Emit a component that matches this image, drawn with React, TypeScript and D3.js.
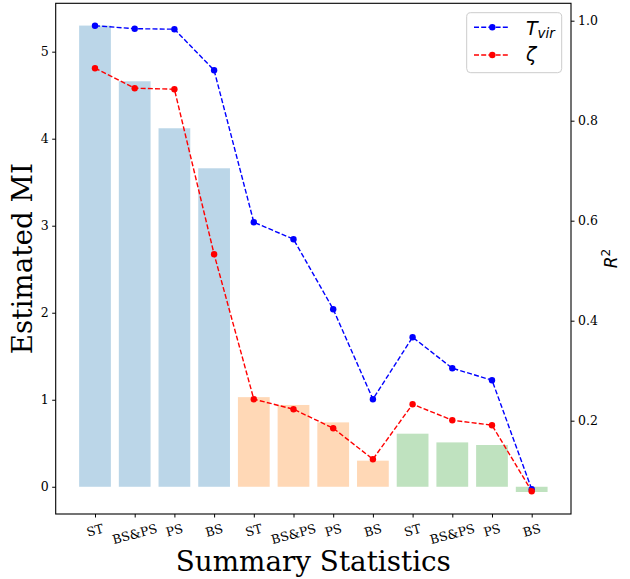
import React, { useEffect, useRef } from 'react';
import * as d3 from 'd3';

// summary statistics, three groups of four
const categories = ['ST', 'BS&PS', 'PS', 'BS', 'ST', 'BS&PS', 'PS', 'BS', 'ST', 'BS&PS', 'PS', 'BS'];
const groupOf = [0, 0, 0, 0, 1, 1, 1, 1, 2, 2, 2, 2];
const groupColors = ['#1f77b4', '#ff7f0e', '#2ca02c'];

// estimated mutual information (bars, left axis)
const miValues = [5.30, 4.66, 4.12, 3.66, 1.03, 0.94, 0.74, 0.30, 0.61, 0.51, 0.48, -0.06];

// R^2 of the two parameters (lines, right axis)
const tvirR2 = [0.990, 0.984, 0.983, 0.901, 0.597, 0.563, 0.423, 0.243, 0.367, 0.305, 0.281, 0.063];
const zetaR2 = [0.905, 0.865, 0.863, 0.533, 0.243, 0.223, 0.185, 0.123, 0.233, 0.201, 0.191, 0.059];

const miTicks = [0, 1, 2, 3, 4, 5];
const r2Ticks = [0.2, 0.4, 0.6, 0.8, 1.0];

const W = 630;
const H = 579;
const margin = { left: 55.7, right: 571, top: 3.3, bottom: 514 };
const SERIF = "'DejaVu Serif', serif";
const SANS = "'DejaVu Sans', sans-serif";

function drawChart(node: HTMLDivElement) {
  d3.select(node).selectAll('*').remove();
  const svg = d3.select(node)
    .append('svg')
    .attr('width', W)
    .attr('height', H)
    .style('display', 'block');

  svg.append('rect').attr('width', W).attr('height', H).attr('fill', '#ffffff');

  const x = d3.scaleLinear().domain([-0.99, 11.99]).range([margin.left, margin.right]);
  const yMI = d3.scaleLinear().domain([-0.313, 5.556]).range([margin.bottom, margin.top]);
  const yR2 = d3.scaleLinear().domain([0.0134, 1.0348]).range([margin.bottom, margin.top]);

  // bars
  svg.append('g')
    .selectAll('rect')
    .data(miValues)
    .join('rect')
    .attr('x', (d, i) => x(i - 0.4))
    .attr('width', x(0.4) - x(-0.4))
    .attr('y', d => yMI(Math.max(0, d)))
    .attr('height', d => Math.abs(yMI(d) - yMI(0)))
    .attr('fill', (d, i) => groupColors[groupOf[i]])
    .attr('fill-opacity', 0.3);

  // lines
  const series = [
    { values: tvirR2, color: '#0000ff' },
    { values: zetaR2, color: '#ff0000' },
  ];
  const line = d3.line<number>().x((d, i) => x(i)).y(d => yR2(d));
  series.forEach(s => {
    const g = svg.append('g');
    g.append('path')
      .attr('d', line(s.values))
      .attr('fill', 'none')
      .attr('stroke', s.color)
      .attr('stroke-width', 1.4)
      .attr('stroke-dasharray', '5,2.2');
    g.selectAll('circle')
      .data(s.values)
      .join('circle')
      .attr('cx', (d, i) => x(i))
      .attr('cy', d => yR2(d))
      .attr('r', 3.2)
      .attr('fill', s.color);
  });

  // frame
  svg.append('rect')
    .attr('x', margin.left)
    .attr('y', margin.top)
    .attr('width', margin.right - margin.left)
    .attr('height', margin.bottom - margin.top)
    .attr('fill', 'none')
    .attr('stroke', '#000')
    .attr('stroke-width', 1.1);

  const styleAxis = (g: any) => {
    g.select('.domain').remove();
    g.selectAll('line').attr('stroke', '#000').attr('stroke-width', 1);
    g.selectAll('text').attr('fill', '#000').style('font-family', SERIF).style('font-size', '12.5px');
  };

  svg.append('g')
    .attr('transform', `translate(${margin.left},0)`)
    .call(d3.axisLeft(yMI).tickValues(miTicks).tickSize(3.5).tickPadding(3.5).tickFormat(d3.format('d')))
    .call(styleAxis);

  svg.append('g')
    .attr('transform', `translate(${margin.right},0)`)
    .call(d3.axisRight(yR2).tickValues(r2Ticks).tickSize(3.5).tickPadding(3.5).tickFormat(d3.format('.1f')))
    .call(styleAxis);

  svg.append('g')
    .attr('transform', `translate(0,${margin.bottom})`)
    .call(d3.axisBottom(x).tickValues(d3.range(categories.length)).tickSize(3.5).tickFormat(() => ''))
    .call(styleAxis);

  // rotated category labels, placed like matplotlib (bbox top-centre under tick)
  const angle = 15 * Math.PI / 180;
  const labelTop = margin.bottom + 7;
  const lineH = 12.5 * 1.164;
  const xl = svg.append('g');
  categories.forEach((c, i) => {
    const t = xl.append('text')
      .text(c)
      .style('font-family', SERIF)
      .style('font-size', '12.5px')
      .attr('text-anchor', 'middle')
      .attr('dominant-baseline', 'central');
    const w = (t.node() as SVGTextElement).getComputedTextLength();
    const bh = w * Math.sin(angle) + lineH * Math.cos(angle);
    const cx = x(i);
    const cy = labelTop + bh / 2;
    t.attr('x', cx).attr('y', cy).attr('transform', `rotate(-15,${cx},${cy})`);
  });

  // axis labels
  svg.append('text')
    .text('Summary Statistics')
    .attr('x', (margin.left + margin.right) / 2)
    .attr('y', 571)
    .attr('text-anchor', 'middle')
    .style('font-family', SERIF)
    .style('font-size', '27.8px');

  const midY = (margin.top + margin.bottom) / 2;
  svg.append('text')
    .text('Estimated MI')
    .attr('transform', `translate(32,${midY}) rotate(-90)`)
    .attr('text-anchor', 'middle')
    .style('font-family', SERIF)
    .style('font-size', '27.8px');

  const r2 = svg.append('text')
    .attr('transform', `translate(617,${midY}) rotate(-90)`)
    .attr('text-anchor', 'middle')
    .style('font-family', SANS)
    .style('font-size', '17px');
  r2.append('tspan').text('R').style('font-style', 'italic');
  r2.append('tspan').text('2').attr('dy', -7).style('font-size', '12px');

  // legend
  const lg = svg.append('g');
  lg.append('rect')
    .attr('x', 466.7).attr('y', 12.7)
    .attr('width', 95).attr('height', 60)
    .attr('rx', 4)
    .attr('fill', '#ffffff').attr('fill-opacity', 0.8)
    .attr('stroke', '#cccccc').attr('stroke-width', 1);
  const rows = [
    { color: '#0000ff', y: 27.3, main: 'T', sub: 'vir', base: 34.5 },
    { color: '#ff0000', y: 55, main: 'ζ', sub: '', base: 61 },
  ];
  rows.forEach(r => {
    lg.append('line')
      .attr('x1', 474).attr('x2', 510)
      .attr('y1', r.y).attr('y2', r.y)
      .attr('stroke', r.color).attr('stroke-width', 1.4)
      .attr('stroke-dasharray', '5,2.2');
    lg.append('circle').attr('cx', 492.3).attr('cy', r.y).attr('r', 3.2).attr('fill', r.color);
    const t = lg.append('text')
      .attr('x', 526)
      .attr('y', r.base)
      .style('font-family', SANS)
      .style('font-size', '19px')
      .style('font-style', 'italic');
    t.append('tspan').text(r.main);
    if (r.sub) t.append('tspan').text(r.sub).attr('dy', 3).style('font-size', '13.5px');
  });
}

export default function App() {
  const ref = useRef<HTMLDivElement>(null);
  useEffect(() => {
    if (ref.current) drawChart(ref.current);
  }, []);
  return <div ref={ref} style={{ position: 'absolute', left: 0, top: 0 }} />;
}
